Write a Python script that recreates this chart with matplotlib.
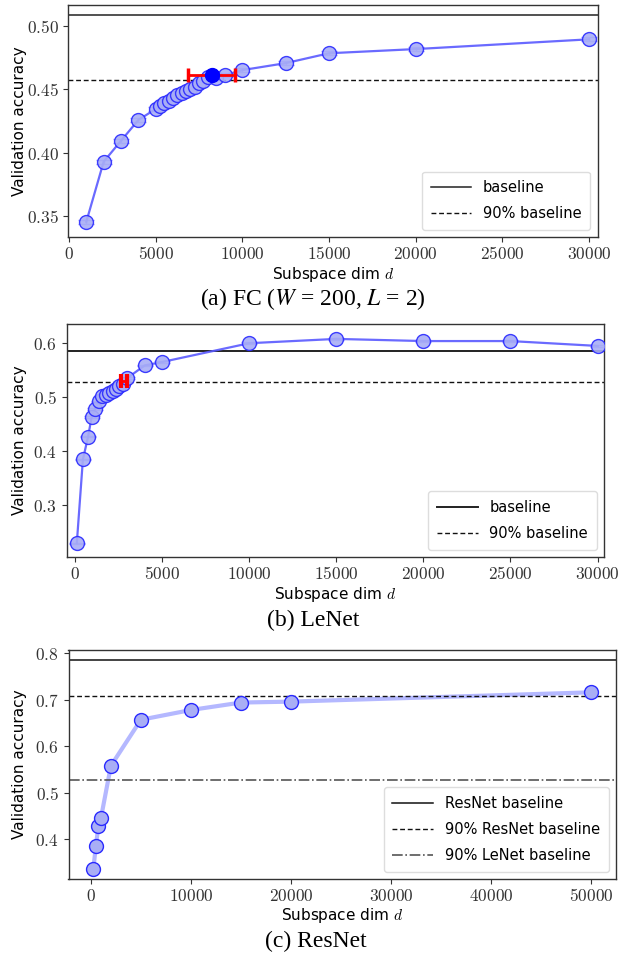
import matplotlib
matplotlib.use('Agg')
import matplotlib.pyplot as plt
from matplotlib.ticker import FuncFormatter, MultipleLocator

plt.rcParams['mathtext.fontset'] = 'cm'
plt.rcParams['font.family'] = ['DejaVu Sans']

# ---------------- data ----------------
fc_dims = [1000, 2000, 3000, 4000, 5000, 5250, 5500, 5750, 6000, 6250, 6500, 6750,
           7000, 7250, 7500, 7750, 8000, 8500, 9000, 10000, 12500, 15000, 20000, 30000]
fc_acc = [0.3455, 0.3929, 0.4094, 0.4258, 0.4345, 0.4368, 0.4389, 0.4410, 0.4429,
          0.4453, 0.4468, 0.4484, 0.4500, 0.4520, 0.4547, 0.4568, 0.4595, 0.4590,
          0.4613, 0.4652, 0.4707, 0.4785, 0.4818, 0.4895]
fc_baseline = 0.5084
fc_int = [8250, 0.461]
fc_int_range = [6850, 9600]

lenet_dims = [100, 450, 750, 950, 1150, 1350, 1550, 1750, 1950, 2150, 2350, 2550,
              2750, 3000, 4000, 5000, 10000, 15000, 20000, 25000, 30000]
lenet_acc = [0.229, 0.384, 0.4265, 0.4624, 0.4778, 0.4913, 0.5006, 0.5040, 0.5075,
             0.5110, 0.5150, 0.5195, 0.5245, 0.5346, 0.558, 0.5643, 0.599, 0.607,
             0.603, 0.603, 0.594]
lenet_baseline = 0.585
lenet_int = [2800, 0.5295]
lenet_int_range = [2640, 2967]

resnet_dims = [250, 500, 750, 1000, 2000, 5000, 10000, 15000, 20000, 50000]
resnet_acc = [0.337, 0.386, 0.428, 0.445, 0.558, 0.657, 0.678, 0.694, 0.696, 0.716]
resnet_baseline = 0.7856
lenet90_for_resnet = 0.5265

acc_err = 0.0015

# ---------------- styling ----------------
LINE = '#5a5aff'
FACE = '#a9aef5'
EDGE = '#2a2aff'
TICKC = '#333333'
W, H = 620, 955

fig = plt.figure(figsize=(6.2, 9.55), dpi=100)


def box(l, t, r, b):
    return [l / W, 1 - b / H, (r - l) / W, (b - t) / H]


ax_a = fig.add_axes(box(68.3, 5, 597.7, 237.3))
ax_b = fig.add_axes(box(66.7, 324.3, 604, 557))
ax_c = fig.add_axes(box(68.5, 650, 616, 879))

tick_fmt_x = FuncFormatter(lambda v, p: r'$%d$' % int(round(v)))


def style(ax, yfmt):
    for s in ax.spines.values():
        s.set_color('#333333')
        s.set_linewidth(1.0)
    ax.tick_params(colors=TICKC, labelsize=12.5, length=3.5, width=0.8)
    ax.tick_params(axis='x', pad=2.0)
    ax.xaxis.set_major_formatter(tick_fmt_x)
    ax.yaxis.set_major_formatter(FuncFormatter(lambda v, p: '$' + (yfmt % v) + '$'))


def curve(ax, x, y):
    ax.errorbar(x, y, yerr=acc_err, color=LINE, lw=1.6, alpha=0.9,
                ecolor='#8c8cff', elinewidth=1.0, capsize=5.5, capthick=1.2,
                marker='o', ms=10, mfc=FACE, mec=EDGE, mew=1.0, zorder=3)


leg_kw = dict(loc='lower right', fontsize=10.5, handlelength=2.8, labelspacing=0.75,
              borderpad=0.6, framealpha=1, edgecolor='#dddddd', fancybox=True)

# ---- (a) FC ----
curve(ax_a, fc_dims, fc_acc)
ax_a.axhline(fc_baseline, color='#222222', lw=1.1, label='baseline')
ax_a.axhline(0.9 * fc_baseline, color='#111111', lw=1.0, ls=(0, (3.5, 2)), label='90% baseline')
ax_a.errorbar([fc_int[0]], [fc_int[1]],
              xerr=[[fc_int[0] - fc_int_range[0]], [fc_int_range[1] - fc_int[0]]],
              color='red', lw=2, capsize=4.7, capthick=2.5, fmt='none', zorder=4)
ax_a.plot([fc_int[0]], [fc_int[1]], 'o', color='#0000ff', ms=10, zorder=5)
ax_a.set_xlim(-40, 30500)
ax_a.set_ylim(0.3332, 0.5166)
ax_a.xaxis.set_major_locator(MultipleLocator(5000))
ax_a.yaxis.set_major_locator(MultipleLocator(0.05))
style(ax_a, '%.2f')
ax_a.legend(**leg_kw)

# ---- (b) LeNet ----
curve(ax_b, lenet_dims, lenet_acc)
ax_b.axhline(lenet_baseline, color='#222222', lw=1.4, label='baseline')
ax_b.axhline(0.9 * lenet_baseline, color='#111111', lw=1.0, ls=(0, (3.5, 2)), label='90% baseline')
ax_b.errorbar([lenet_int[0]], [lenet_int[1]],
              xerr=[[lenet_int[0] - lenet_int_range[0]], [lenet_int_range[1] - lenet_int[0]]],
              color='red', lw=2, capsize=4.7, capthick=3, fmt='none', zorder=4)
ax_b.set_xlim(-480, 30370)
ax_b.set_ylim(0.2037, 0.634)
ax_b.xaxis.set_major_locator(MultipleLocator(5000))
ax_b.yaxis.set_major_locator(MultipleLocator(0.1))
style(ax_b, '%.1f')
ax_b.legend(**leg_kw)

# ---- (c) ResNet ----
ax_c.plot(resnet_dims, resnet_acc, color='#b4b8ff', lw=3, zorder=2)
ax_c.plot(resnet_dims, resnet_acc, 'o', ms=10, mfc=FACE, mec=EDGE, mew=1.0, zorder=3)
ax_c.axhline(resnet_baseline, color='#111111', lw=1.1, label='ResNet baseline')
ax_c.axhline(0.9 * resnet_baseline, color='#111111', lw=1.0, ls=(0, (3.5, 2)),
             label='90% ResNet baseline')
ax_c.axhline(lenet90_for_resnet, color='#555555', lw=1.2, ls='-.', label='90% LeNet baseline')
ax_c.set_xlim(-2237, 52487)
ax_c.set_ylim(0.3146, 0.807)
ax_c.xaxis.set_major_locator(MultipleLocator(10000))
ax_c.yaxis.set_major_locator(MultipleLocator(0.1))
style(ax_c, '%.1f')
ax_c.legend(**leg_kw)

# ---- labels ----
for ax, (l, t, r, b), xl_y in [(ax_a, (68.3, 5, 597.7, 237.3), 274),
                               (ax_b, (66.7, 324.3, 604, 557), 594),
                               (ax_c, (68.5, 650, 616, 879), 915)]:
    fig.text(((l + r) / 2) / W, 1 - xl_y / H, r'Subspace dim $d$', ha='center', va='center',
             fontsize=11)
    fig.text(20 / W, 1 - ((t + b) / 2) / H, 'Validation accuracy', rotation=90,
             ha='center', va='center', fontsize=11)

cap_kw = dict(ha='center', va='center', fontsize=17, family='Liberation Serif',
              math_fontfamily='stix')
fig.text(313 / W, 1 - 299 / H, r'(a) FC ($W$ = 200, $L$ = 2)', **cap_kw)
fig.text(313 / W, 1 - 620 / H, '(b) LeNet', **cap_kw)
fig.text(316 / W, 1 - 941 / H, '(c) ResNet', **cap_kw)

fig.savefig('out.png', dpi=100)
